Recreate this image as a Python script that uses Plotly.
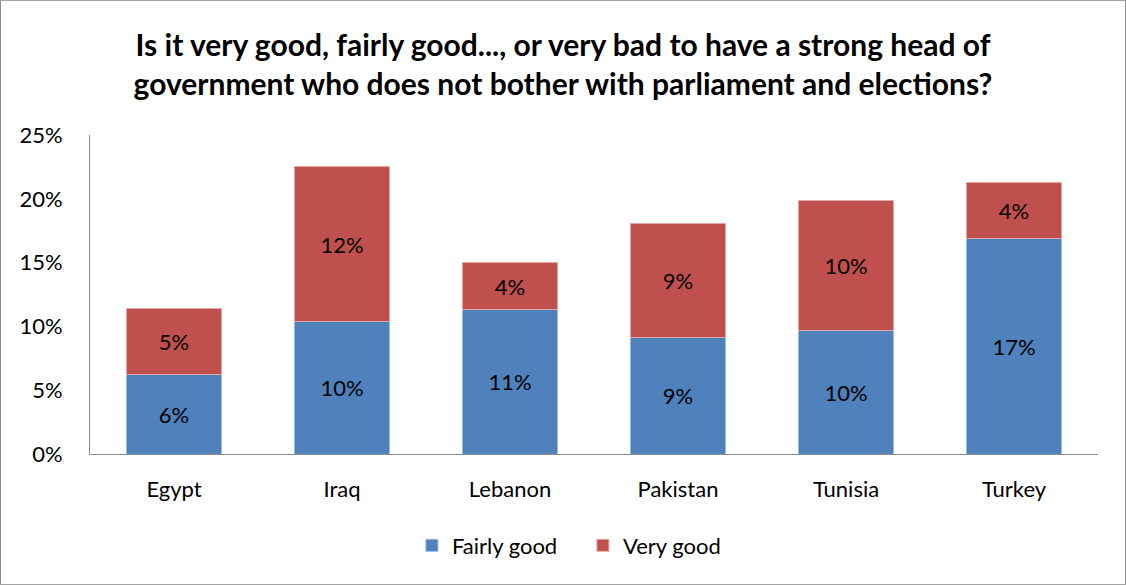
import plotly.graph_objs as go

countries = ["Egypt", "Iraq", "Lebanon", "Pakistan", "Tunisia", "Turkey"]
fairly_good = [0.062, 0.104, 0.113, 0.091, 0.097, 0.169]
very_good = [0.052, 0.121, 0.037, 0.090, 0.102, 0.044]
y_ticks = [0, 0.05, 0.10, 0.15, 0.20, 0.25]

FONT = "Lato"
SIZE = 22

fig = go.Figure()

# Fairly good (bas)
fig.add_trace(go.Bar(
    x=countries,
    y=fairly_good,
    name="Fairly good",
    marker=dict(color="#4F81BD", line=dict(color="#9DB8DC", width=1)),
    texttemplate="%{y:.0%}",
    textposition="inside",
    insidetextanchor="middle",
    textfont=dict(color="black", size=SIZE, family=FONT),
))

# Very good (haut)
fig.add_trace(go.Bar(
    x=countries,
    y=very_good,
    name="Very good",
    marker=dict(color="#C0504D", line=dict(color="#E0A9A7", width=1)),
    texttemplate="%{y:.0%}",
    textposition="inside",
    insidetextanchor="middle",
    textfont=dict(color="black", size=SIZE, family=FONT),
))

fig.update_layout(
    barmode="stack",
    bargap=0.43,
    width=1126,
    height=585,
    margin=dict(l=90, r=28, t=135, b=131),
    paper_bgcolor="white",
    plot_bgcolor="white",
    font=dict(family=FONT, size=SIZE, color="black"),
    title=dict(
        text="<b>Is it very good, fairly good..., or very bad to have a strong head of<br>"
             "government who does not bother with parliament and elections?</b>",
        x=0.5,
        xanchor="center",
        y=0.905,
        yanchor="middle",
        font=dict(family=FONT, size=30, color="black"),
    ),
    xaxis=dict(
        showline=True,
        linecolor="#8C8C8C",
        linewidth=1,
        ticks="",
        ticklabelstandoff=16,
        tickfont=dict(size=SIZE),
    ),
    yaxis=dict(
        range=[0, 0.25],
        tickvals=y_ticks,
        tickformat=".0%",
        showgrid=False,
        zeroline=False,
        showline=True,
        linecolor="#8C8C8C",
        linewidth=1,
        ticks="",
        ticklabelstandoff=22,
        tickfont=dict(size=SIZE),
    ),
    legend=dict(
        orientation="h",
        x=0.489,
        xanchor="center",
        y=-0.287,
        yanchor="middle",
        entrywidth=126,
        font=dict(size=SIZE),
        traceorder="normal",
    ),
    showlegend=True,
    shapes=[dict(
        type="rect",
        xref="paper", yref="paper",
        x0=-89.5 / 1008, x1=1 + 27.5 / 1008,
        y0=-130.5 / 318.5, y1=1 + 134.5 / 318.5,
        line=dict(color="#8C8C8C", width=1),
    )],
)

fig.write_html("out.html", config={"displayModeBar": False},
               post_script="document.body.style.margin='0';")
